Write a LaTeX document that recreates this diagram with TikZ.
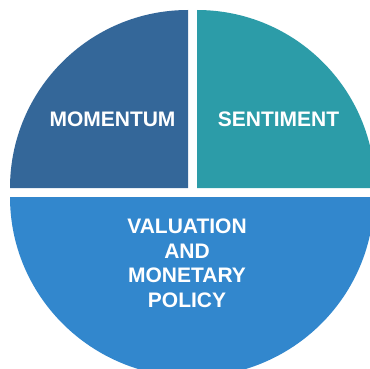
\documentclass[tikz,border=0pt]{standalone}
\usepackage{fontspec}
\setmainfont{Liberation Sans}
\definecolor{momentumblue}{RGB}{52,103,153}
\definecolor{sentimentteal}{RGB}{44,156,168}
\definecolor{valuationblue}{RGB}{50,135,205}
\tikzset{
  slicelabel/.style={text=white, font=\fontsize{21}{24.5}\selectfont\bfseries, align=center, inner sep=0pt},
}
\begin{document}
\begin{tikzpicture}[x=1pt, y=-1pt]
    \useasboundingbox (0,0) rectangle (370,369);
    \clip (0,0) rectangle (370,369);

    % the three slices, pulled apart
    \fill[momentumblue] (188,188) -- (10,188) arc[start angle=180, end angle=270, radius=178] -- cycle;
    \fill[sentimentteal] (197,188) -- (197,10) arc[start angle=270, end angle=360, radius=178] -- cycle;
    \fill[valuationblue] (374,197) arc[start angle=0, end angle=180, x radius=182, y radius=180] -- cycle;

    \node[slicelabel] (momentum) at (112.5,119.5) {MOMENTUM};
    \node[slicelabel] (sentiment) at (278.5,119.5) {SENTIMENT};
    \node[slicelabel] (valuation) at (187,263.4) {VALUATION\\AND\\MONETARY\\POLICY};

\end{tikzpicture}
\end{document}
